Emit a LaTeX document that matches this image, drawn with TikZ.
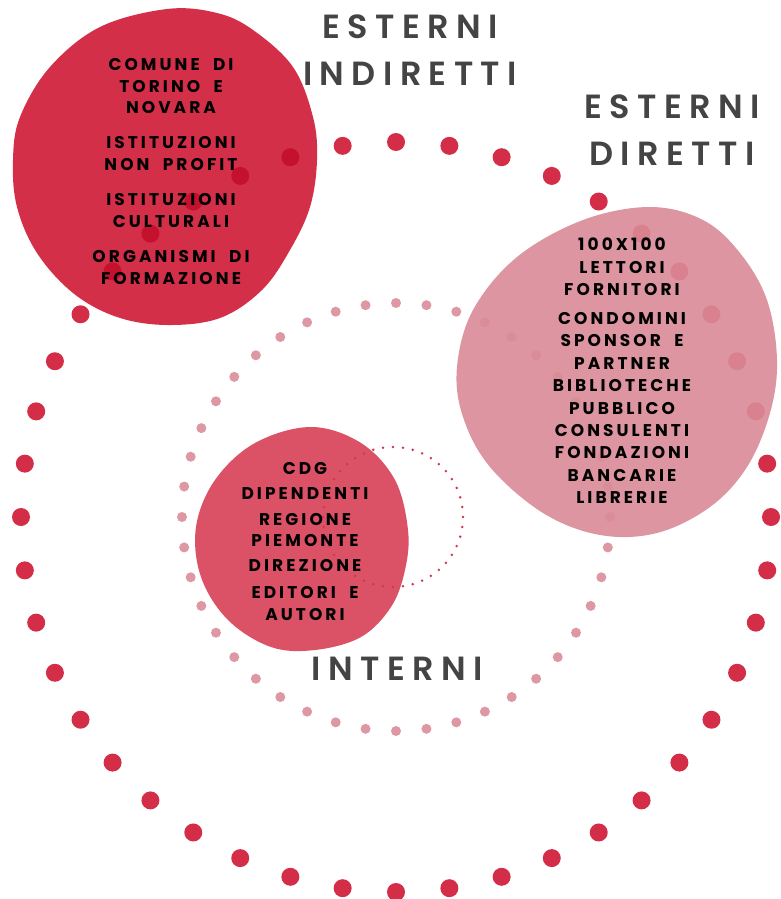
\documentclass[tikz,border=0pt]{standalone}
\usepackage{fontspec}
\newfontfamily\bodyfont[LetterSpace=18,WordSpace=2]{Poppins Bold}
\newfontfamily\headfont[LetterSpace=22]{Poppins SemiBold}
\definecolor{cRed}{RGB}{211,47,72}
\definecolor{cDot}{RGB}{212,45,72}
\definecolor{cDotIn}{RGB}{196,18,46}
\definecolor{cPink}{RGB}{218,139,151}
\definecolor{cPinkDot}{RGB}{222,152,164}
\definecolor{cMid}{RGB}{219,82,102}
\definecolor{cTiny}{RGB}{214,52,78}
\definecolor{cHead}{RGB}{68,68,68}
\def\blobA{plot[smooth cycle, tension=0.6] coordinates {(167,9) (217,13) (253,30) (293,67) (313,117) (317,160) (310,207) (290,250) (262,290) (220,318) (167,325) (117,317) (73,293) (37,253) (17,207) (13,160) (20,117) (50,67) (100,27)}}
\def\blobB{plot[smooth cycle, tension=0.6] coordinates {(650,207) (703,220) (740,253) (767,300) (777,360) (770,413) (747,467) (710,507) (657,533) (600,535) (543,513) (490,467) (463,417) (457,367) (473,310) (517,257) (583,220)}}
\def\blobC{plot[smooth cycle, tension=0.6] coordinates {(311,427) (361,443) (395,480) (408,530) (405,570) (391,607) (361,637) (315,650) (271,647) (228,620) (201,577) (196,527) (215,480) (255,443)}}
\tikzset{
  body/.style={align=center, inner sep=0pt, text=black},
  head/.style={align=center, inner sep=0pt, text=cHead, font=\headfont\fontsize{33.5pt}{47pt}\selectfont}
}
\begin{document}
\begin{tikzpicture}[x=1pt,y=-1pt]
\useasboundingbox[fill=white] (0,0) rectangle (780,899);
\coordinate (C) at (396,517);
% blob 1
\fill[cRed] \blobA;
% outer dots
\foreach \k in {0,...,43} \fill[cDot, shift={(C)}] (\k*360/44:375pt) circle (9pt);
\begin{scope}
\clip \blobA;
\foreach \k in {0,...,43} \fill[cDotIn, shift={(C)}] (\k*360/44:375pt) circle (9pt);
\end{scope}
% inner dots
\foreach \k in {0,...,43} \fill[cPinkDot, shift={(C)}] (\k*360/44:214pt) circle (5pt);
% blob 2
\fill[cPink, fill opacity=0.9] \blobB;
% blob 3
\fill[cMid] \blobC;
% tiny dots
\foreach \k in {0,...,43} \fill[cTiny, shift={(393,517)}] (\k*360/44:70pt) circle (1.4pt);
% headers
\node[head, anchor=north] (hA) at (410,15) {ESTERNI\\INDIRETTI};
\node[head, anchor=north] (hB) at (672,95) {ESTERNI\\DIRETTI};
\node[head, anchor=north] (hC) at (397,657) {INTERNI};
% texts
\node[body, anchor=north, font=\bodyfont\fontsize{17pt}{21.7pt}\selectfont] (tA) at (171,58)
 {COMUNE DI\\TORINO E\\NOVARA\\[13.5pt]ISTITUZIONI\\NON PROFIT\\[13.5pt]ISTITUZIONI\\CULTURALI\\[13.5pt]ORGANISMI DI\\FORMAZIONE};
\node[body, anchor=north, font=\bodyfont\fontsize{17pt}{22.4pt}\selectfont] (tB) at (622,238)
 {100X100\\LETTORI\\FORNITORI\\[6.5pt]CONDOMINI\\SPONSOR E\\PARTNER\\BIBLIOTECHE\\PUBBLICO\\CONSULENTI\\FONDAZIONI\\BANCARIE\\LIBRERIE};
\node[body, anchor=north, font=\bodyfont\fontsize{17pt}{21.5pt}\selectfont] (tC) at (305,462)
 {CDG\\[3.5pt]DIPENDENTI\\[4.5pt]REGIONE\\PIEMONTE\\[3.5pt]DIREZIONE\\[5.5pt]EDITORI E\\AUTORI};
\end{tikzpicture}
\end{document}
